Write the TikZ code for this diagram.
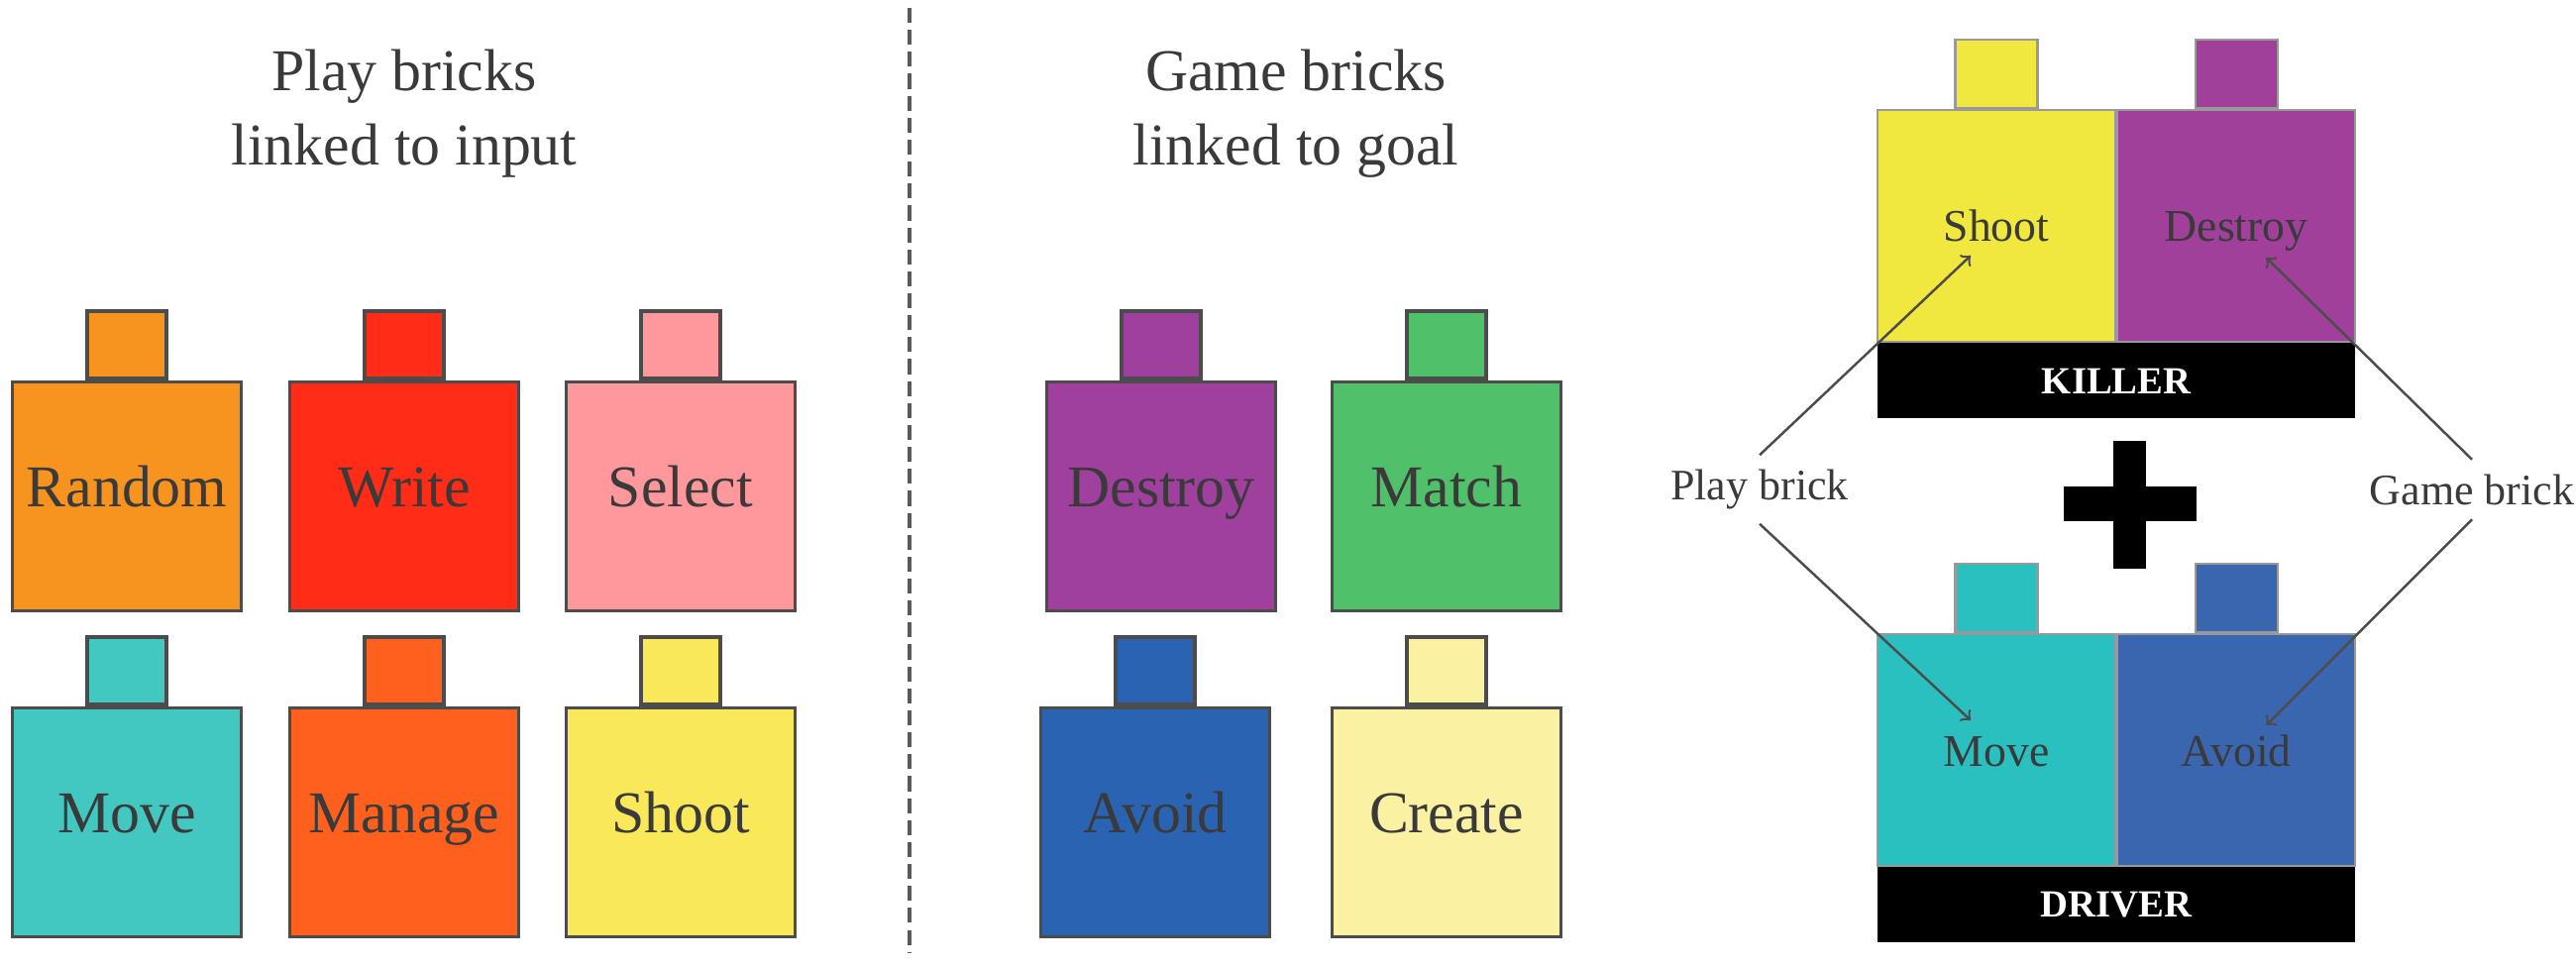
\documentclass[tikz,border=0pt]{standalone}
\usepackage{fontspec}
\setmainfont{Liberation Serif}
\usepackage{tikz}
\usetikzlibrary{arrows,positioning}

\definecolor{crandom}{HTML}{F7941F}
\definecolor{cwrite}{HTML}{FF2D18}
\definecolor{cselect}{HTML}{FF989C}
\definecolor{cmove}{HTML}{42C8C0}
\definecolor{cmanage}{HTML}{FF601E}
\definecolor{cshoot}{HTML}{F8E85A}
\definecolor{cdestroy}{HTML}{A0409E}
\definecolor{cmatch}{HTML}{50C06A}
\definecolor{cavoid}{HTML}{2B63B3}
\definecolor{ccreate}{HTML}{FBF1A2}
\definecolor{kshoot}{HTML}{F0E83E}
\definecolor{kdestroy}{HTML}{A0409A}
\definecolor{dmove}{HTML}{2AC0C0}
\definecolor{davoid}{HTML}{3A66B0}
\definecolor{ctext}{HTML}{3A3A3A}

\tikzset{
  brick/.style={draw=black!70, line width=1pt, minimum width=2.31cm, minimum height=2.31cm,
    inner sep=0pt, text height=0.8em, text depth=0.2em, text=ctext, font=\fontsize{17}{20}\selectfont},
  stud/.style={draw=black!70, line width=1pt, minimum width=0.8cm, minimum height=0.68cm, inner sep=0pt},
  half/.style={draw=black!40, line width=0.6pt, minimum width=2.4cm, minimum height=2.33cm,
    inner sep=0pt, text height=1em, text depth=0.09em, text=ctext, font=\fontsize{13}{15}\selectfont},
  bigstud/.style={draw=black!40, line width=0.6pt, minimum width=0.83cm, minimum height=0.69cm, inner sep=0pt},
  bar/.style={fill=black, minimum width=4.82cm, minimum height=0.76cm, inner sep=0pt,
    text=white, font=\fontsize{11}{14}\selectfont\bfseries},
  title/.style={align=center, inner sep=0pt, text=ctext, font=\fontsize{17}{21.3}\selectfont},
  tag/.style={text=ctext, inner sep=4pt, font=\fontsize{12.5}{14}\selectfont},
  pointer/.style={->, >=to, draw=black!70, line width=0.7pt},
}

\begin{document}
\begin{tikzpicture}[x=0.01cm,y=-0.01cm]
%
\useasboundingbox (0,0) rectangle (2600,976);
%
% play bricks
\node[title] (playtitle) at (408,115) {Play bricks\\linked to input};
\node[brick, fill=crandom] (random) at (128,501) {Random};
\node[stud, fill=crandom, above=0pt of random] (random-stud) {};
\node[brick, fill=cwrite] (write) at (408,501) {Write};
\node[stud, fill=cwrite, above=0pt of write] (write-stud) {};
\node[brick, fill=cselect] (select) at (687,501) {Select};
\node[stud, fill=cselect, above=0pt of select] (select-stud) {};
\node[brick, fill=cmove] (move) at (128,830) {Move};
\node[stud, fill=cmove, above=0pt of move] (move-stud) {};
\node[brick, fill=cmanage] (manage) at (408,830) {Manage};
\node[stud, fill=cmanage, above=0pt of manage] (manage-stud) {};
\node[brick, fill=cshoot] (shoot) at (687,830) {Shoot};
\node[stud, fill=cshoot, above=0pt of shoot] (shoot-stud) {};
%
\draw[black!65, line width=1.1pt, dash pattern=on 4.3pt off 2pt] (918,8) -- (918,962);
%
% game bricks
\node[title] (gametitle) at (1308,115) {Game bricks\\linked to goal};
\node[brick, fill=cdestroy] (destroy) at (1172,501) {Destroy};
\node[stud, fill=cdestroy, above=0pt of destroy] (destroy-stud) {};
\node[brick, fill=cmatch] (match) at (1460,501) {Match};
\node[stud, fill=cmatch, above=0pt of match] (match-stud) {};
\node[brick, fill=cavoid] (avoid) at (1166,830) {Avoid};
\node[stud, fill=cavoid, above=0pt of avoid] (avoid-stud) {};
\node[brick, fill=ccreate] (create) at (1460,830) {Create};
\node[stud, fill=ccreate, above=0pt of create] (create-stud) {};
%
% killer
\node[half, fill=kshoot] (k-shoot) at (2015,228) {Shoot};
\node[bigstud, fill=kshoot, above=0pt of k-shoot] (k-shoot-stud) {};
\node[half, fill=kdestroy, right=0pt of k-shoot] (k-destroy) {Destroy};
\node[bigstud, fill=kdestroy, above=0pt of k-destroy] (k-destroy-stud) {};
\node[bar, below=0pt of k-shoot.south east] (killer) {KILLER};
%
\fill (2083,491) rectangle (2217,526);
\fill (2133,445) rectangle (2166,574);
%
% driver
\node[half, fill=dmove] (d-move) at (2015,757) {Move};
\node[bigstud, fill=dmove, above=0pt of d-move] (d-move-stud) {};
\node[half, fill=davoid, right=0pt of d-move] (d-avoid) {Avoid};
\node[bigstud, fill=davoid, above=0pt of d-avoid] (d-avoid-stud) {};
\node[bar, below=0pt of d-move.south east] (driver) {DRIVER};
%
\node[tag] (playbrick) at (1776,494) {Play brick};
\node[tag] (gamebrick) at (2495,494) {Game brick};
\draw[pointer] (playbrick.north) -- ([shift={(-26,30)}]k-shoot.center);
\draw[pointer] (playbrick.south) -- ([shift={(-26,-30)}]d-move.center);
\draw[pointer] (gamebrick.north) -- ([shift={(30,32)}]k-destroy.center);
\draw[pointer] (gamebrick.south) -- ([shift={(30,-25)}]d-avoid.center);
%
\end{tikzpicture}
\end{document}
